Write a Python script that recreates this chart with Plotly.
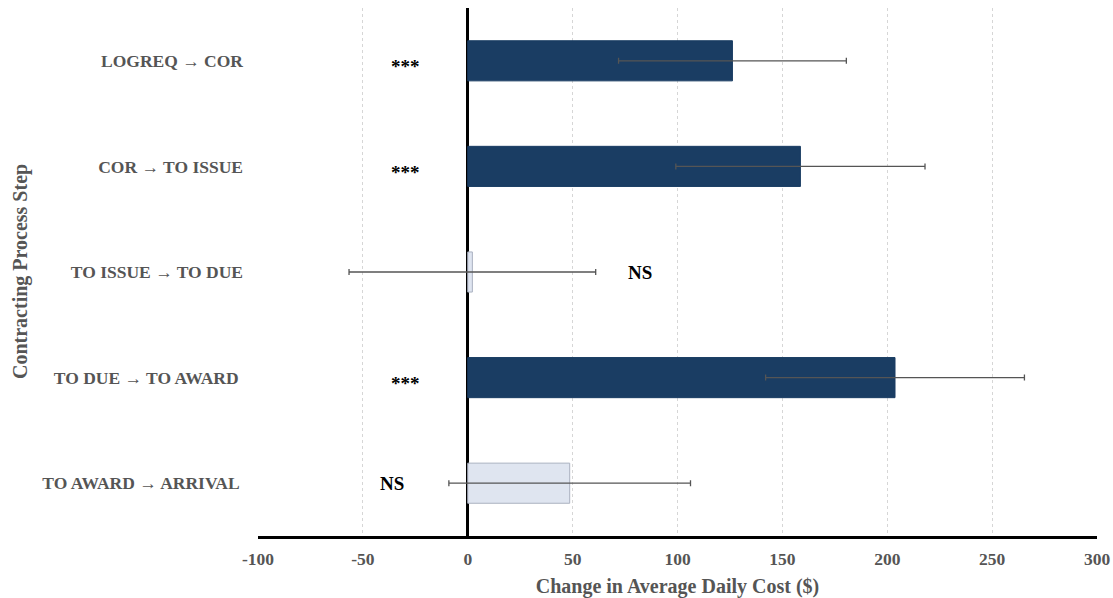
import plotly.graph_objects as go

# Contracting process steps (top to bottom)
steps = [
    "LOGREQ → COR",
    "COR → TO ISSUE",
    "TO ISSUE → TO DUE",
    "TO DUE → TO AWARD ",
    "TO AWARD → ARRIVAL ",
]
# Estimated change in average daily cost ($) and error half-widths
effects = [126.2, 158.6, 2.2, 203.7, 48.6]
errors = [54.3, 59.4, 58.8, 61.7, 57.6]
# Significance markers and where they sit along the x axis
signif = ["***", "***", "NS", "***", "NS"]
label_x = [-29.5, -29.5, 82, -29.5, -36]

x_ticks = [-100, -50, 0, 50, 100, 150, 200, 250, 300]
x_tick_text = [f"<b>{v}</b>" for v in x_ticks]

dark = "#1a3d63"
light = "#dfe5f0"
colors = [dark if s != "NS" else light for s in signif]
edges = [dark if s != "NS" else "#aab1c0" for s in signif]

fig = go.Figure()
fig.add_trace(go.Bar(
    y=steps,
    x=effects,
    orientation="h",
    width=0.38,
    marker=dict(color=colors, line=dict(color=edges, width=1)),
    error_x=dict(type="data", array=errors, visible=True,
                 color="#555555", thickness=1.3, width=3),
    showlegend=False,
))

for s, lx, lab in zip(steps, label_x, signif):
    fig.add_annotation(
        x=lx, y=s, text=f"<b>{lab}</b>", showarrow=False,
        font=dict(family="Liberation Serif", size=19, color="#000000"),
        yshift=-6 if lab == "***" else 0,
    )

# Vertical axis title, placed by hand at the far left
fig.add_annotation(
    text="<b>Contracting Process Step</b>",
    xref="paper", yref="paper", x=0, y=0.5,
    xanchor="center", yanchor="middle",
    xshift=-238, textangle=-90, showarrow=False,
    font=dict(size=20, family="Liberation Serif", color="#555555"),
)

fig.update_layout(
    width=1113, height=598,
    margin=dict(l=258, r=16, t=8, b=62),
    plot_bgcolor="white",
    paper_bgcolor="white",
    font=dict(family="Liberation Serif", color="#555555"),
    xaxis=dict(
        range=[-100, 300],
        tickvals=x_ticks, ticktext=x_tick_text,
        automargin=False,
        showgrid=True, gridcolor="#d6d6d6", griddash="dot", gridwidth=1,
        zeroline=True, zerolinecolor="black", zerolinewidth=2.5,
        showline=True, linecolor="black", linewidth=2.5,
        ticks="", ticklabelstandoff=5,
        tickfont=dict(size=17.5, family="Liberation Serif", color="#555555"),
        title=dict(text="<b>Change in Average Daily Cost ($)</b>",
                   font=dict(size=20, family="Liberation Serif", color="#555555")),
        fixedrange=True,
    ),
    yaxis=dict(
        categoryorder="array", categoryarray=steps[::-1],
        range=[-0.5, 4.5],
        automargin=False,
        showgrid=False, zeroline=False, showline=False,
        ticks="", ticklabelstandoff=14,
        tickfont=dict(size=17.5, family="Liberation Serif", color="#555555", weight="bold"),
        fixedrange=True,
    ),
)

fig.write_html("out.html")
